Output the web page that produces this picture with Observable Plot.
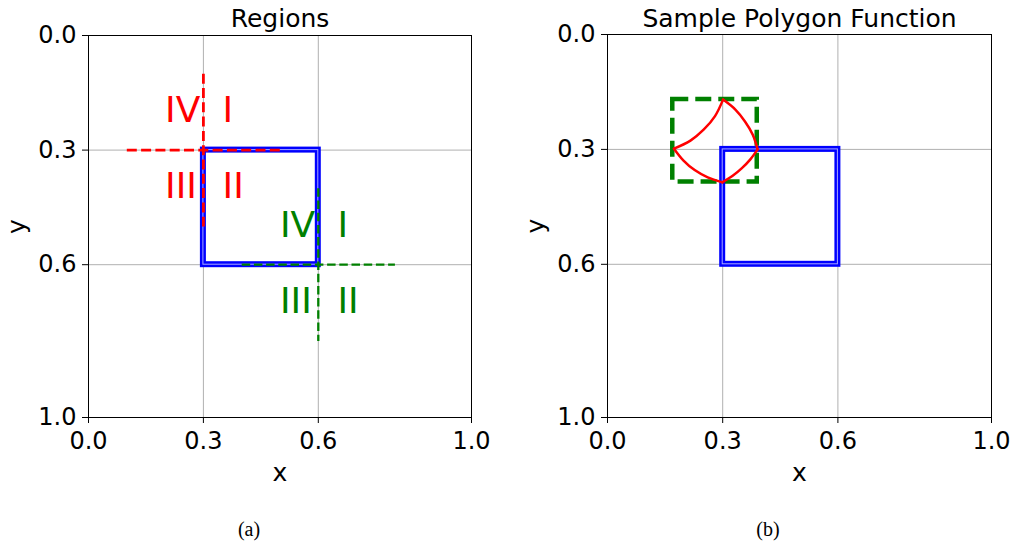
<!DOCTYPE html>
<html><head><meta charset="utf-8">
<script src="https://cdn.jsdelivr.net/npm/d3@7"></script>
<script src="https://cdn.jsdelivr.net/npm/@observablehq/plot@0.6"></script>
<style>
body{margin:0;background:#fff;}
#root{position:relative;width:1019px;height:547px;overflow:hidden;font-family:"DejaVu Sans",sans-serif;background:#fff;}
.panel{position:absolute;top:0;width:509px;height:470px;}
.panel svg{max-width:none !important;display:block;}
.caption{position:absolute;font-family:"Liberation Serif","Times New Roman",serif;font-size:20px;transform:translate(-50%,-50%);white-space:nowrap;color:#000;}
</style></head><body><div id="root"></div>
<script>
// ---- data ----
const axisTicks = [0.0, 0.3, 0.6, 1.0];
const panelTitles = ["Regions", "Sample Polygon Function"];
const captions = ["(a)", "(b)"];

// square [min, max] in both x and y
const squareBounds = [0.3, 0.6];

// region crosshairs (A = red at corner 0.3, B = green at corner 0.6)
const crossRegion = ["A", "A", "B", "B"];
const crossX1 = [0.1, 0.3, 0.4, 0.6];
const crossY1 = [0.3, 0.1, 0.6, 0.4];
const crossX2 = [0.5, 0.3, 0.8, 0.6];
const crossY2 = [0.3, 0.5, 0.6, 0.8];

// quadrant labels
const quadRegion = ["A", "A", "A", "A", "B", "B", "B", "B"];
const quadText = ["IV", "I", "III", "II", "IV", "I", "III", "II"];
const quadX = [0.2, 0.35, 0.2, 0.35, 0.5, 0.65, 0.5, 0.65];
const quadY = [0.196, 0.196, 0.394, 0.394, 0.498, 0.498, 0.697, 0.697];

// warped polygon (four curved edges)
const warpEdge = ["TR","TR","TR","TR","TR", "RB","RB","RB","RB","RB", "BL","BL","BL","BL","BL", "LT","LT","LT","LT","LT"];
const warpX = [0.301, 0.333, 0.358, 0.378, 0.391,  0.391, 0.372, 0.350, 0.326, 0.299,  0.299, 0.261, 0.227, 0.198, 0.173,  0.173, 0.216, 0.251, 0.280, 0.301];
const warpY = [0.170, 0.196, 0.227, 0.261, 0.300,  0.300, 0.326, 0.349, 0.369, 0.386,  0.386, 0.373, 0.354, 0.329, 0.298,  0.298, 0.277, 0.248, 0.213, 0.170];

// bounding box of the warped polygon [x1, x2, y1, y2]
const boxBounds = [0.17, 0.39, 0.17, 0.385];

// ---- drawing ----
const RED = "#ff0000", GREEN = "#008000", BLUE = "#0000ff", GRID = "#b0b0b0";
const regionColor = {A: RED, B: GREEN};
const fmt = d3.format(".1f");
const inner = axisTicks.filter(t => t > 0 && t < 1);
const idx = arr => arr.map((_, i) => i);

function squareMarks() {
  return [
    Plot.rect([squareBounds], {x1: d => d[0], x2: d => d[1], y1: d => d[0], y2: d => d[1],
      fill: "none", stroke: BLUE, strokeWidth: 6, strokeLinejoin: "miter"}),
    Plot.rect([squareBounds], {x1: d => d[0], x2: d => d[1], y1: d => d[0], y2: d => d[1],
      fill: "none", stroke: "#a8a8ff", strokeWidth: 1, strokeLinejoin: "miter"})
  ];
}

function makePanel(title, extraMarks, opt) {
  const W = 509, H = 470;
  return Plot.plot({
    width: W, height: H,
    marginLeft: 88, marginRight: W - 88 - opt.pw, marginTop: opt.top, marginBottom: H - opt.top - opt.ph,
    x: {domain: [0, 1]},
    y: {domain: [0, 1], reverse: true},
    style: {fontFamily: "'DejaVu Sans', sans-serif", fontSize: "24px", color: "#000", background: "#fff", overflow: "visible"},
    marks: [
      Plot.gridX(inner, {stroke: GRID, strokeOpacity: 1, strokeWidth: 1}),
      Plot.gridY(inner, {stroke: GRID, strokeOpacity: 1, strokeWidth: 1}),
      ...extraMarks,
      Plot.frame({stroke: "#000", strokeWidth: 1}),
      Plot.axisX(axisTicks, {tickSize: 6, tickPadding: 8, tickFormat: fmt, label: null, fontSize: 24}),
      Plot.axisY(axisTicks, {tickSize: 6, tickPadding: 6, tickFormat: fmt, label: null, fontSize: 24}),
      Plot.text(["x"], {frameAnchor: "bottom", lineAnchor: "middle", textAnchor: "middle", dy: 55, fontSize: 25}),
      Plot.text(["y"], {frameAnchor: "left", lineAnchor: "middle", textAnchor: "middle", dx: -71.5, rotate: -90, fontSize: 25}),
      Plot.text([title], {frameAnchor: "top", lineAnchor: "middle", textAnchor: "middle", dy: -17 + (35 - opt.top), fontSize: 25})
    ]
  });
}

const leftMarks = [
  ...squareMarks(),
  ...["A", "B"].map(r => {
    const ii = idx(crossRegion).filter(i => crossRegion[i] === r);
    return Plot.link(ii, {x1: i => crossX1[i], y1: i => crossY1[i], x2: i => crossX2[i], y2: i => crossY2[i],
      stroke: regionColor[r], strokeWidth: r === "A" ? 2.8 : 2.3, strokeDasharray: r === "A" ? "10,4.3" : "8.5,3.7"});
  }),
  ...["A", "B"].map(r => {
    const ii = idx(quadRegion).filter(i => quadRegion[i] === r);
    return Plot.text(ii, {x: i => quadX[i], y: i => quadY[i], text: i => quadText[i],
      fill: regionColor[r], fontSize: 36, textAnchor: "start"});
  })
];

const rightMarks = [
  Plot.rect([boxBounds], {x1: d => d[0], x2: d => d[1], y1: d => d[2], y2: d => d[3],
    fill: "none", stroke: GREEN, strokeWidth: 4.5, strokeDasharray: "16,7", strokeLinejoin: "miter"}),
  ...squareMarks(),
  Plot.line(idx(warpX), {x: i => warpX[i], y: i => warpY[i], z: i => warpEdge[i],
    curve: "catmull-rom", stroke: RED, strokeWidth: 2.5})
];

const root = document.getElementById("root");
const specs = [
  {left: 0, marks: leftMarks, opt: {top: 35, pw: 383, ph: 382}, cap: 249},
  {left: 519, marks: rightMarks, opt: {top: 34, pw: 384, ph: 383}, cap: 768}
];
specs.forEach((s, k) => {
  const div = document.createElement("div");
  div.className = "panel";
  div.style.left = s.left + "px";
  const svg = makePanel(panelTitles[k], s.marks, s.opt);
  svg.style.maxWidth = "none";
  div.appendChild(svg);
  root.appendChild(div);
  const c = document.createElement("div");
  c.className = "caption";
  c.style.left = s.cap + "px";
  c.style.top = "529px";
  c.textContent = captions[k];
  root.appendChild(c);
});
</script>
</body></html>
